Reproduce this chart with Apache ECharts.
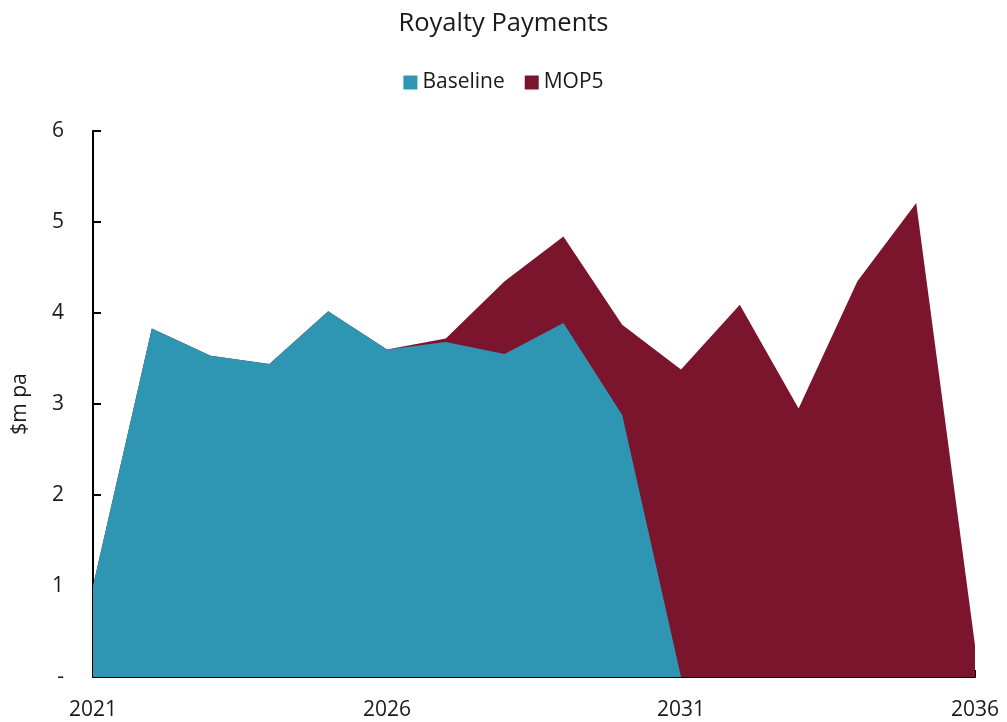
<!DOCTYPE html>
<html>
<head>
<meta charset="utf-8">
<script src="https://cdn.jsdelivr.net/npm/echarts@6/dist/echarts.min.js"></script>
<style>
  html, body { margin: 0; padding: 0; background: #fff; }
  #chart { width: 1007px; height: 722px; }
</style>
</head>
<body>
<div id="chart"></div>
<script>
// 年份
var years = ['2021', '2022', '2023', '2024', '2025', '2026', '2027', '2028',
  '2029', '2030', '2031', '2032', '2033', '2034', '2035', '2036'];
var baseline = [1.0, 3.83, 3.53, 3.44, 4.02, 3.6, 3.68, 3.55, 3.89, 2.88, 0, 0, 0, 0, 0, 0];
var mop5 = [1.0, 3.83, 3.53, 3.44, 4.02, 3.6, 3.72, 4.35, 4.84, 3.87, 3.38, 4.09, 2.95, 4.35, 5.21, 0.35];
var yTicks = [0, 1, 2, 3, 4, 5, 6];

var chart = echarts.init(document.getElementById('chart'));
var font = '"Open Sans", "Noto Sans", sans-serif';

chart.setOption({
  animation: false,
  textStyle: { fontFamily: font },
  title: {
    text: 'Royalty Payments',
    left: 'center',
    top: 6,
    textStyle: { fontFamily: font, fontSize: 25.5, fontWeight: 'normal', color: '#1a1a1a' }
  },
  legend: {
    data: ['Baseline', 'MOP5'],
    top: 67,
    left: 'center',
    itemWidth: 14,
    itemHeight: 14,
    itemGap: 20,
    icon: 'rect',
    textStyle: { fontFamily: font, fontSize: 21, color: '#1a1a1a' }
  },
  grid: {
    left: 93,
    right: 32,
    top: 131,
    bottom: 45
  },
  xAxis: {
    type: 'category',
    data: years,
    boundaryGap: false,
    axisLine: { lineStyle: { color: '#000', width: 2 } },
    axisTick: { inside: true, interval: 4, length: 7, lineStyle: { color: '#000', width: 2 } },
    axisLabel: { interval: 4, margin: 23, fontSize: 21, color: '#1a1a1a', fontFamily: font }
  },
  yAxis: {
    type: 'value',
    min: yTicks[0],
    max: yTicks[yTicks.length - 1],
    interval: 1,
    name: '$m pa',
    nameLocation: 'middle',
    nameGap: 62,
    nameTextStyle: { fontSize: 21, color: '#1a1a1a', fontFamily: font },
    splitLine: { show: false },
    axisLine: { show: true, lineStyle: { color: '#000', width: 2 } },
    axisTick: { show: true, inside: true, length: 8, lineStyle: { color: '#000', width: 2 } },
    axisLabel: {
      margin: 29,
      fontSize: 21,
      color: '#1a1a1a',
      fontFamily: font,
      formatter: function (v) { return v === 0 ? '-' : v; }
    }
  },
  series: [
    {
      name: 'MOP5',
      type: 'line',
      data: mop5,
      symbol: 'none',
      z: 1,
      itemStyle: { color: '#7B152D' },
      lineStyle: { width: 0 },
      areaStyle: { color: '#7B152D', opacity: 1 }
    },
    {
      name: 'Baseline',
      type: 'line',
      data: baseline,
      symbol: 'none',
      z: 2,
      itemStyle: { color: '#2E96B2' },
      lineStyle: { width: 0 },
      areaStyle: { color: '#2E96B2', opacity: 1 }
    }
  ]
});
</script>
</body>
</html>
